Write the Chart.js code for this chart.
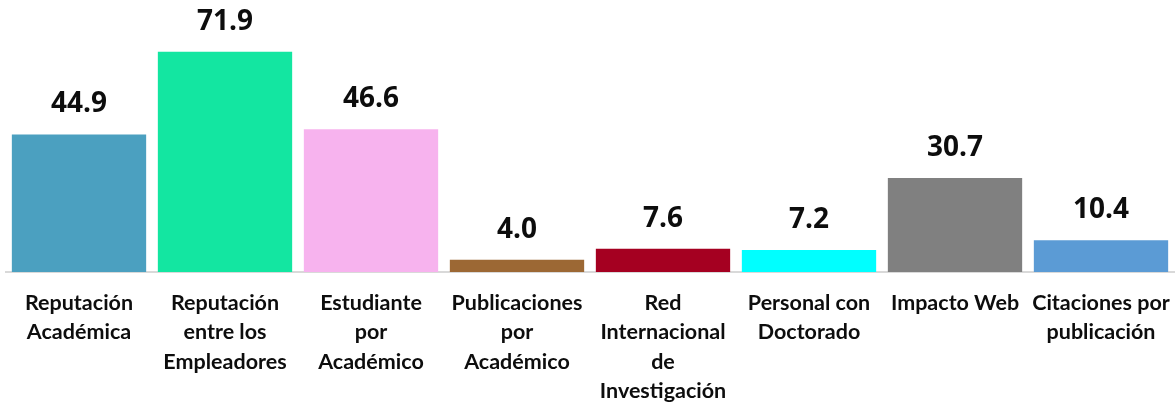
<!DOCTYPE html>
<html>
<head>
<meta charset="utf-8">
<script src="https://cdn.jsdelivr.net/npm/chart.js@4"></script>
<style>
  html, body { margin: 0; padding: 0; background: #fff; }
  #wrap { width: 1176px; height: 402px; }
</style>
</head>
<body>
<div id="wrap"><canvas id="barChart"></canvas></div>
<script>
const categories = [
    ['Reputación', 'Académica'],
    ['Reputación', 'entre los', 'Empleadores'],
    ['Estudiante', 'por', 'Académico'],
    ['Publicaciones', 'por', 'Académico'],
    ['Red', 'Internacional', 'de', 'Investigación'],
    ['Personal con', 'Doctorado'],
    ['Impacto Web'],
    ['Citaciones por', 'publicación']
];
const values = [44.9, 71.9, 46.6, 4.0, 7.6, 7.2, 30.7, 10.4];
const barColors = ['#4BA0C0', '#13E6A1', '#F7B3EE', '#9C6834', '#A50021', '#00FFFF', '#808080', '#5B9BD5'];

const valueLabels = {
    id: 'valueLabels',
    afterDatasetsDraw(chart) {
        const ctx = chart.ctx;
        const meta = chart.getDatasetMeta(0);
        ctx.save();
        ctx.font = 'bold 28px "Open Sans", Lato, sans-serif';
        ctx.fillStyle = '#0d0d0d';
        ctx.textAlign = 'center';
        ctx.textBaseline = 'middle';
        meta.data.forEach(function (bar, i) {
            ctx.fillText(values[i].toFixed(1), bar.x, bar.y - 30);
        });
        ctx.restore();
    }
};

var ctx = document.getElementById('barChart').getContext('2d');
var myChart = new Chart(ctx, {
    type: 'bar',
    data: {
        labels: categories,
        datasets: [{
            label: 'Puntuación',
            data: values,
            backgroundColor: barColors,
            borderWidth: 0,
            categoryPercentage: 1,
            barPercentage: 0.92
        }]
    },
    options: {
        responsive: true,
        maintainAspectRatio: false,
        animation: false,
        layout: { padding: { top: 27, left: 6, right: 2, bottom: 0 } },
        plugins: {
            legend: { display: false },
            tooltip: { enabled: false }
        },
        scales: {
            y: {
                display: false,
                min: 0,
                max: 80
            },
            x: {
                grid: { display: false, drawTicks: false },
                border: { display: true, color: '#d9d9d9', width: 2 },
                afterFit: function (scale) {
                    scale.height = 130;
                    scale.paddingLeft = 0;
                    scale.paddingRight = 0;
                },
                ticks: {
                    color: '#0d0d0d',
                    padding: 17,
                    maxRotation: 0,
                    autoSkip: false,
                    font: { family: 'Lato, "Liberation Sans", sans-serif', size: 21.5, weight: 'bold', lineHeight: 1.35 }
                }
            }
        }
    },
    plugins: [valueLabels]
});
</script>
</body>
</html>
